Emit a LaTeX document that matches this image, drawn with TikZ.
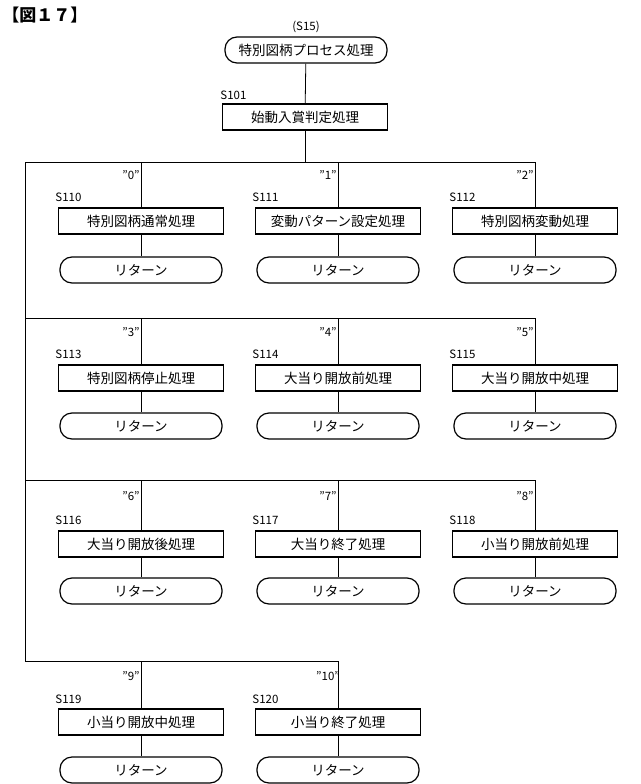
\documentclass[tikz,border=0pt]{standalone}
\usepackage{fontspec}
\setmainfont{Noto Sans CJK JP}
\begin{document}
\begin{tikzpicture}[x=1pt,y=-1pt,
  pb/.style={shape=rectangle,draw=black,line width=1.2pt,minimum width=165pt,minimum height=26pt,font=\fontsize{13.5}{15}\selectfont},
  rb/.style={shape=rectangle,rounded corners=12pt,draw=black,line width=1.2pt,minimum width=162pt,minimum height=26pt,font=\fontsize{13.5}{15}\selectfont},
  lb/.style={font=\fontsize{11.5}{13}\selectfont,inner sep=0pt},
  every path/.style={line width=0.8pt}]
  \useasboundingbox (0,0) rectangle (640,784);
  \node[lb,anchor=west,font=\fontsize{17}{19}\selectfont\bfseries] at (2,15) {【図１７】};
  \node[lb] at (306,27) {(S15)};
  \node[rb] (top) at (306,50) {特別図柄プロセス処理};
  \node[lb,anchor=west] at (220,95) {S101};
  \node[pb] (s101) at (305,117) {始動入賞判定処理};

  % row 1
  \node[lb] at (131,175) {"0"};
  \node[lb] at (328,175) {"1"};
  \node[lb] at (525,175) {"2"};
  \node[lb,anchor=west] at (55,197) {S110};
  \node[lb,anchor=west] at (252,197) {S111};
  \node[lb,anchor=west] at (449,197) {S112};
  \node[pb] (s110) at (141,221) {特別図柄通常処理};
  \node[pb] (s111) at (338,221) {変動パターン設定処理};
  \node[pb] (s112) at (535,221) {特別図柄変動処理};
  \node[rb] (r110) at (141,270) {リターン};
  \node[rb] (r111) at (338,270) {リターン};
  \node[rb] (r112) at (535,270) {リターン};
  % row 2
  \node[lb] at (131,332) {"3"};
  \node[lb] at (328,332) {"4"};
  \node[lb] at (525,332) {"5"};
  \node[lb,anchor=west] at (55,354) {S113};
  \node[lb,anchor=west] at (252,354) {S114};
  \node[lb,anchor=west] at (449,354) {S115};
  \node[pb] (s113) at (141,378) {特別図柄停止処理};
  \node[pb] (s114) at (338,378) {大当り開放前処理};
  \node[pb] (s115) at (535,378) {大当り開放中処理};
  \node[rb] (r113) at (141,426) {リターン};
  \node[rb] (r114) at (338,426) {リターン};
  \node[rb] (r115) at (535,426) {リターン};
  % row 3
  \node[lb] at (131,496) {"6"};
  \node[lb] at (328,496) {"7"};
  \node[lb] at (525,496) {"8"};
  \node[lb,anchor=west] at (55,520) {S116};
  \node[lb,anchor=west] at (252,520) {S117};
  \node[lb,anchor=west] at (449,520) {S118};
  \node[pb] (s116) at (141,544) {大当り開放後処理};
  \node[pb] (s117) at (338,544) {大当り終了処理};
  \node[pb] (s118) at (535,544) {小当り開放前処理};
  \node[rb] (r116) at (141,591) {リターン};
  \node[rb] (r117) at (338,591) {リターン};
  \node[rb] (r118) at (535,591) {リターン};
  % row 4
  \node[lb] at (131,676) {"9"};
  \node[lb] at (328,676) {"10"};
  \node[lb,anchor=west] at (55,699) {S119};
  \node[lb,anchor=west] at (252,699) {S120};
  \node[pb] (s119) at (141,722) {小当り開放中処理};
  \node[pb] (s120) at (338,722) {小当り終了処理};
  \node[rb] (r119) at (141,770) {リターン};
  \node[rb] (r120) at (338,770) {リターン};

  \coordinate (j0) at (305,162);
  \coordinate (j1) at (25,318);
  \coordinate (j2) at (25,480);
  \coordinate (j3) at (25,661);
  \draw (top) -- (s101);
  \draw (s101) -- (j0);
  \draw (s110 |- j0) -| (25,661);
  \draw (s110 |- j0) -- (s112 |- j0) -- (s112);
  \draw (s110 |- j0) -- (s110);
  \draw (s111 |- j0) -- (s111);
  \draw (j1) -- (s115 |- j1) -- (s115);
  \draw (s113 |- j1) -- (s113);
  \draw (s114 |- j1) -- (s114);
  \draw (j2) -- (s118 |- j2) -- (s118);
  \draw (s116 |- j2) -- (s116);
  \draw (s117 |- j2) -- (s117);
  \draw (j3) -- (s120 |- j3) -- (s120);
  \draw (s119 |- j3) -- (s119);
  \foreach \n in {110,111,112,113,114,115,116,117,118,119,120}
    \draw (s\n) -- (r\n);
\end{tikzpicture}
\end{document}
